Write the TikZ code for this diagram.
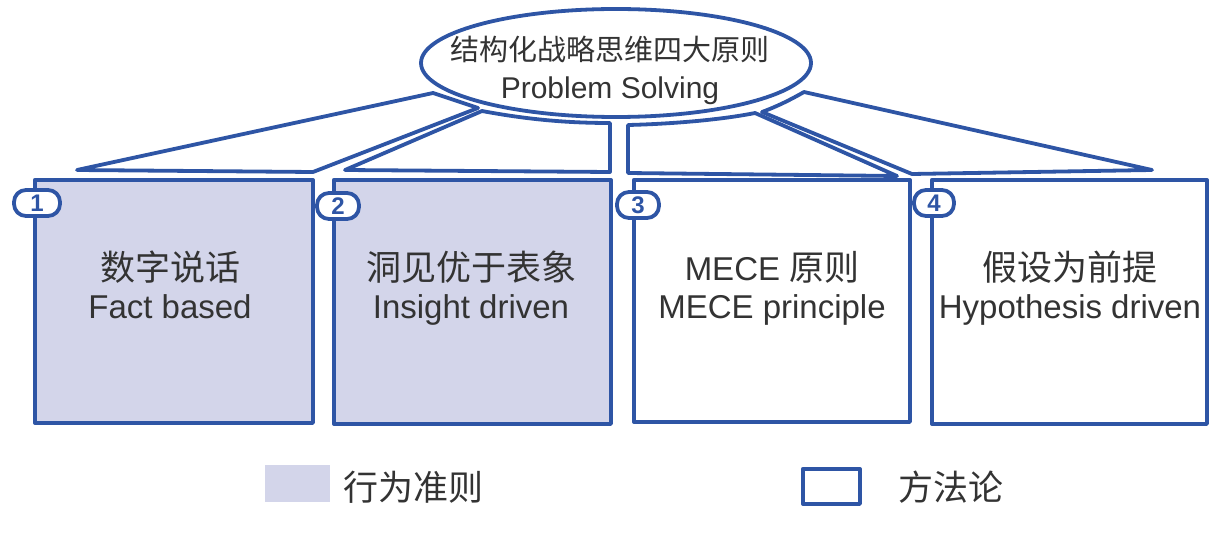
\documentclass[tikz,border=0pt]{standalone}
\usepackage{fontspec}
\usetikzlibrary{shapes.geometric}
\setmainfont{Liberation Sans}
\newfontfamily\cjk{Noto Sans CJK SC}
\definecolor{pblue}{HTML}{2E55A5}
\definecolor{lav}{HTML}{D3D5EA}
\definecolor{ink}{HTML}{333333}
\begin{document}
\begin{tikzpicture}[x=1pt,y=-1pt,
  line/.style={draw=pblue,line width=3.8pt,line join=round,line cap=round},
  roof/.style={line,fill=white},
  box/.style={line,rectangle,inner sep=0pt,anchor=north west},
  badge/.style={line,fill=white,rounded corners=12pt,inner sep=0pt,minimum height=26pt,
     font=\bfseries\fontsize{24}{24}\selectfont,text=pblue},
  zh/.style={anchor=base,text=ink,font=\cjk\fontsize{35}{35}\selectfont},
  en/.style={anchor=base,text=ink,font=\fontsize{33}{33}\selectfont}]
\useasboundingbox (0,0) rectangle (1227,540);

% roofs
\draw[roof] (77,170) -- (433,93) -- (478,108) -- (313,172) -- cycle;
\draw[roof] (345,170) -- (482,111) .. controls (530,120) and (570,123) .. (610,123) -- (610,172) -- cycle;
\draw[roof] (628,125) -- (628,173) -- (897,176) -- (755,113) .. controls (720,120) and (670,124) .. (628,125);
\draw[roof] (762,112) -- (912,174) -- (1152,170) -- (804,92) .. controls (790,100) and (778,106) .. (762,112);

% boxes
\node[box,fill=lav,minimum width=278pt,minimum height=243pt] (b1) at (33,178) {};
\node[box,fill=lav,minimum width=277pt,minimum height=244pt] (b2) at (332,178) {};
\node[box,fill=white,minimum width=276pt,minimum height=242pt] (b3) at (632,178) {};
\node[box,fill=white,minimum width=275pt,minimum height=244pt] (b4) at (930,178) {};

% badges
\node[badge,minimum width=46pt] (n1) at (37,203) {1};
\node[badge,minimum width=42pt] (n2) at (338,206) {2};
\node[badge,minimum width=42pt] (n3) at (638,205) {3};
\node[badge,minimum width=40pt] (n4) at (934,203) {4};

% top ellipse
\node[ellipse,line,fill=white,minimum width=390pt,minimum height=108pt,inner sep=0pt] (top) at (616,63) {};
\node[anchor=base,text=ink,font=\cjk\fontsize{29}{29}\selectfont] (topzh) at (610,61) {结构化战略思维四大原则};
\node[anchor=base,text=ink,font=\fontsize{30}{30}\selectfont] (topen) at (610,99) {Problem Solving};

% box texts
\node[zh] (z1) at (170,281) {数字说话};
\node[en] (e1) at (170,319) {Fact based};
\node[zh] (z2) at (471,281) {洞见优于表象};
\node[en] (e2) at (471,319) {Insight driven};
\node[zh] (z3) at (772,281) {\fontspec{Liberation Sans}\fontsize{33}{33}\selectfont MECE \cjk\fontsize{35}{35}\selectfont 原则};
\node[en] (e3) at (772,319) {MECE principle};
\node[zh] (z4) at (1070,281) {假设为前提};
\node[en] (e4) at (1070,319) {Hypothesis driven};

% legend
\node[fill=lav,inner sep=0pt,minimum width=65pt,minimum height=37pt,anchor=north west] (l1) at (265,465) {};
\node[zh,anchor=base west] (lt1) at (340,500) {行为准则};
\node[line,fill=white,inner sep=0pt,minimum width=57pt,minimum height=35pt,anchor=north west] (l2) at (801,467) {};
\node[zh,anchor=base west] (lt2) at (895,500) {方法论};
\end{tikzpicture}
\end{document}
